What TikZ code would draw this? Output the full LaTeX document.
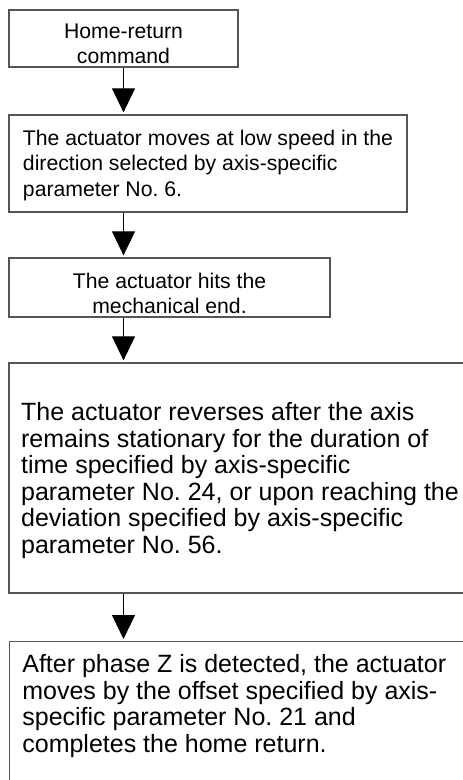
\documentclass[tikz,border=0pt]{standalone}
\usepackage{fontspec}
\setmainfont{Liberation Sans}
\usepackage{xcolor}
\usepackage{tikz}
\usetikzlibrary{positioning,arrows.meta}
\definecolor{boxline}{RGB}{85,85,85}
\tikzset{
  stepbox/.style   = {rectangle, draw=boxline, line width=1.3pt, inner sep=0pt},
  smalltxt/.style  = {font=\fontsize{21.2}{25.4}\selectfont},
  bigtxt/.style    = {font=\fontsize{25}{26.5}\selectfont},
  flowarrow/.style = {-{Triangle[length=24pt,width=23pt]}, line width=0.9pt,
                      black, shorten >=2pt}
}
\newcommand{\lift}[1]{\rule{0pt}{#1}}
\frenchspacing

\begin{document}
\begin{tikzpicture}[x=1pt, y=1pt]
  \useasboundingbox (0,0) rectangle (463,-780);
  \clip (0,0) rectangle (463,-780);
  % Steps
  \node[stepbox, smalltxt, align=center, minimum width=229pt, minimum height=57pt]
    (cmd) at (123.5,-38.5) {\lift{24.6pt}Home-return\\command};
  \node[stepbox, smalltxt, align=left, minimum width=398pt, minimum height=97pt]
    (slowmove) at (208,-163.5)
    {\lift{19.2pt}The actuator moves at low speed in the\\
     direction selected by axis-specific\\
     parameter No. 6.};
  \node[stepbox, smalltxt, align=center, minimum width=321pt, minimum height=59pt]
    (hitend) at (169.5,-287.5) {\lift{26.6pt}The actuator hits the\\mechanical end.};
  \node[stepbox, bigtxt, align=left, minimum width=462pt, minimum height=230pt]
    (reverse) at (240,-478)
    {\lift{23.1pt}The actuator reverses after the axis\\
     remains stationary for the duration of\\
     time specified by axis-specific\\
     parameter No. 24, or upon reaching the\\
     deviation specified by axis-specific\\
     parameter No. 56.};
  \node[stepbox, bigtxt, anchor=north west, inner xsep=12.7pt, inner ysep=12.8pt]
    (zphase) at (9,-641)
    {\parbox[t][170pt][t]{440pt}{After phase Z is detected, the actuator\\
     moves by the offset specified by axis-\\
     specific parameter No. 21 and\\
     completes the home return.}};
  % Arrows
  \draw[flowarrow] (cmd.south) -- (cmd.south |- slowmove.north);
  \draw[flowarrow] (cmd.south |- slowmove.south) -- (cmd.south |- hitend.north);
  \draw[flowarrow] (cmd.south |- hitend.south) -- (cmd.south |- reverse.north);
  \draw[flowarrow] (cmd.south |- reverse.south) -- (cmd.south |- zphase.north);
\end{tikzpicture}
\end{document}
